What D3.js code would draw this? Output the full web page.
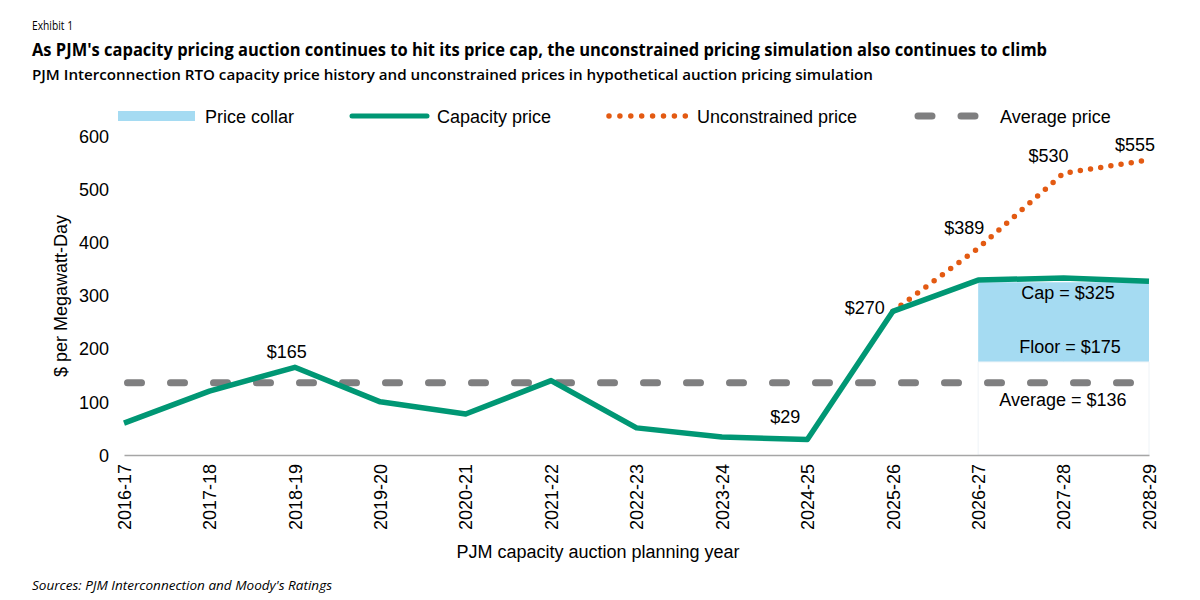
<!DOCTYPE html>
<html><head><meta charset="utf-8">
<script src="https://cdn.jsdelivr.net/npm/d3@7"></script>
<style>
body{margin:0;background:#fff;}
svg{display:block;}
text{font-family:"Liberation Sans",Arial,sans-serif;fill:#000;}
.ttl{font-family:"Open Sans","Noto Sans",sans-serif;}
</style></head>
<body>
<svg id="c" width="1200" height="600"></svg>
<script>
const years = ["2016-17","2017-18","2018-19","2019-20","2020-21","2021-22","2022-23","2023-24","2024-25","2025-26","2026-27","2027-28","2028-29"];
const capacityPrice = [60,120,165,100,77,140,51,34,29,270,329,333,327];
const unconstrainedYears = ["2025-26","2026-27","2027-28","2028-29"];
const unconstrainedPrice = [270,389,530,555];
const collarYears = ["2026-27","2027-28","2028-29"];
const collarFloor = [175,175,175];
const collarCap = [325,325,325];
const averagePrice = 136;
const yTicks = [0,100,200,300,400,500,600];
const valueLabels = [
  {year:"2018-19", value:165, text:"$165"},
  {year:"2024-25", value:29, text:"$29"},
  {year:"2025-26", value:270, text:"$270"},
  {year:"2026-27", value:389, text:"$389"},
  {year:"2027-28", value:530, text:"$530"},
  {year:"2028-29", value:555, text:"$555"}
];

const FS = 18;
const svg = d3.select("#c");
const x = d3.scalePoint().domain(years).range([124,1149]);
const y = d3.scaleLinear().domain([0,600]).range([455,136]);

// titles
svg.append("text").attr("class","ttl").attr("x",32).attr("y",30).attr("font-size",12).attr("textLength",41).attr("lengthAdjust","spacingAndGlyphs").text("Exhibit 1");
svg.append("text").attr("class","ttl").attr("x",32).attr("y",56).attr("font-size",18).attr("font-weight",700).attr("textLength",1015).attr("lengthAdjust","spacingAndGlyphs")
  .text("As PJM's capacity pricing auction continues to hit its price cap, the unconstrained pricing simulation also continues to climb");
svg.append("text").attr("class","ttl").attr("x",32).attr("y",80).attr("font-size",15).attr("font-weight",600).attr("textLength",841).attr("lengthAdjust","spacingAndGlyphs")
  .text("PJM Interconnection RTO capacity price history and unconstrained prices in hypothetical auction pricing simulation");
svg.append("text").attr("class","ttl").attr("x",32).attr("y",590).attr("font-size",13).attr("font-style","italic").attr("textLength",300).attr("lengthAdjust","spacingAndGlyphs")
  .text("Sources: PJM Interconnection and Moody's Ratings");

// legend
const lg = svg.append("g").attr("font-size",FS);
lg.append("line").attr("x1",118).attr("x2",195).attr("y1",116).attr("y2",116).attr("stroke","#a5dbf2").attr("stroke-width",10);
lg.append("text").attr("x",205).attr("y",122.5).text("Price collar");
lg.append("line").attr("x1",352).attr("x2",427).attr("y1",116).attr("y2",116).attr("stroke","#009774").attr("stroke-width",5).attr("stroke-linecap","round");
lg.append("text").attr("x",437).attr("y",122.5).text("Capacity price");
lg.append("line").attr("x1",609).attr("x2",686).attr("y1",116).attr("y2",116).attr("stroke","#e35a12").attr("stroke-width",5.5).attr("stroke-linecap","round").attr("stroke-dasharray","0 10.9");
lg.append("text").attr("x",697).attr("y",122.5).text("Unconstrained price");
lg.append("line").attr("x1",918).attr("x2",982).attr("y1",116).attr("y2",116).attr("stroke","#7f7f80").attr("stroke-width",7).attr("stroke-linecap","round").attr("stroke-dasharray","14 29");
lg.append("text").attr("x",1000).attr("y",122.5).text("Average price");

// y axis
const ya = svg.append("g").attr("transform","translate(109,0)")
  .call(d3.axisLeft(y).tickValues(yTicks).tickSize(0).tickPadding(0).tickFormat(d3.format("d")));
ya.select(".domain").remove();
ya.selectAll("text").attr("font-size",FS).attr("font-family","'Liberation Sans',Arial,sans-serif").attr("fill","#000").attr("dy","0.35em");
svg.append("text").attr("transform","translate(67,296) rotate(-90)").attr("text-anchor","middle").attr("font-size",FS).text("$ per Megawatt-Day");

// collar area
const collar = collarYears.map((yr,i)=>({yr,lo:collarFloor[i],hi:collarCap[i]}));
svg.append("path").datum(collar)
  .attr("d", d3.area().x(d=>x(d.yr)).y0(d=>y(d.lo)).y1(d=>y(d.hi)))
  .attr("fill","#a5dbf2");
svg.append("path").datum(collar)
  .attr("d", d3.area().x(d=>x(d.yr)).y0(()=>y(0)).y1(d=>y(d.lo)))
  .attr("fill","none").attr("stroke","#eef3f7").attr("stroke-width",1);

// x axis
const xa = svg.append("g").attr("transform","translate(0,455)")
  .call(d3.axisBottom(x).tickSize(0).tickPadding(0));
xa.select(".domain").attr("stroke","#a6a6a6").attr("stroke-width",1.5);
xa.selectAll("text").attr("font-size",FS).attr("font-family","'Liberation Sans',Arial,sans-serif").attr("fill","#000")
  .attr("text-anchor","end").attr("transform","rotate(-90)").attr("x",-9).attr("y",0).attr("dy","0.35em");
svg.append("text").attr("x",598).attr("y",558).attr("text-anchor","middle").attr("font-size",FS).text("PJM capacity auction planning year");

// average line
svg.append("line").attr("x1",x(years[0])).attr("x2",x(years[years.length-1])).attr("y1",y(averagePrice)).attr("y2",y(averagePrice))
  .attr("stroke","#7f7f80").attr("stroke-width",7).attr("stroke-linecap","round").attr("stroke-dasharray","14 29").attr("stroke-dashoffset",-3.5);

// unconstrained
svg.append("path").datum(unconstrainedYears.map((yr,i)=>({yr,v:unconstrainedPrice[i]})))
  .attr("d", d3.line().x(d=>x(d.yr)).y(d=>y(d.v)))
  .attr("fill","none").attr("stroke","#e35a12").attr("stroke-width",5.5).attr("stroke-linecap","round").attr("stroke-dasharray","0 10.3");

// capacity price
svg.append("path").datum(years.map((yr,i)=>({yr,v:capacityPrice[i]})))
  .attr("d", d3.line().x(d=>x(d.yr)).y(d=>y(d.v)))
  .attr("fill","none").attr("stroke","#009774").attr("stroke-width",5.5).attr("stroke-linejoin","round");

// value labels
const lblOff = {"$165":[-8,-9],"$29":[-22,-17],"$270":[-28,3],"$389":[-14,-14],"$530":[-15,-11],"$555":[-14,-9]};
svg.append("g").selectAll("text").data(valueLabels).join("text")
  .attr("x",d=>x(d.year)+lblOff[d.text][0]).attr("y",d=>y(d.value)+lblOff[d.text][1])
  .attr("text-anchor","middle").attr("font-size",FS).text(d=>d.text);

// annotations
svg.append("text").attr("x",1068).attr("y",298.5).attr("text-anchor","middle").attr("font-size",FS).text("Cap = $325");
svg.append("text").attr("x",1070).attr("y",352.5).attr("text-anchor","middle").attr("font-size",FS).text("Floor = $175");
svg.append("text").attr("x",1063).attr("y",405.5).attr("text-anchor","middle").attr("font-size",FS).text("Average = $136");
</script>
</body></html>
